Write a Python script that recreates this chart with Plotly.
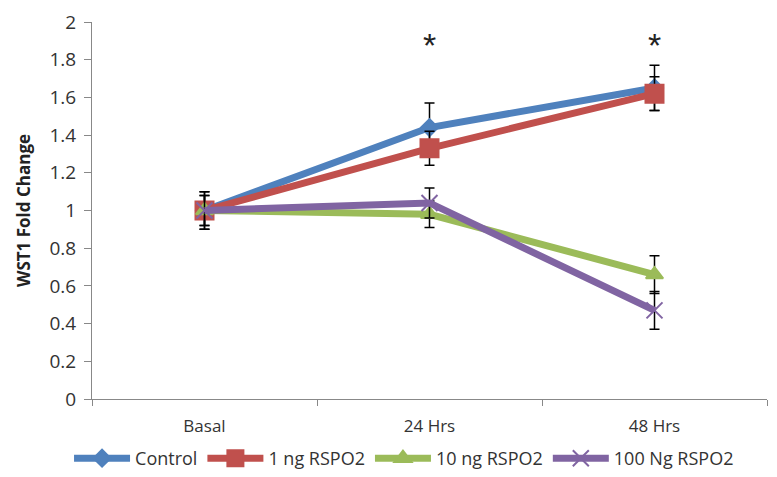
import plotly.graph_objects as go

categories = ["Basal", "24 Hrs", "48 Hrs"]
series_names = ["Control", "1 ng RSPO2", "10 ng RSPO2", "100 Ng RSPO2"]
control = [1.0, 1.44, 1.65]
control_err = [0.1, 0.13, 0.12]
ng1 = [1.0, 1.33, 1.62]
ng1_err = [0.1, 0.09, 0.09]
ng10 = [1.0, 0.98, 0.66]
ng10_err = [0.08, 0.07, 0.1]
ng100 = [1.0, 1.04, 0.47]
ng100_err = [0.08, 0.08, 0.1]
star_cats = ["24 Hrs", "48 Hrs"]
star_y = [1.86, 1.86]

colors = ["#4F81BD", "#C0504D", "#9BBB59", "#8064A2"]
symbols = ["diamond", "square", "triangle-up", "x-thin"]
sizes = [13, 18, 15, 16]
values = [control, ng1, ng10, ng100]
errs = [control_err, ng1_err, ng10_err, ng100_err]

fig = go.Figure()
for name, v, e, c, s, sz in zip(series_names, values, errs, colors, symbols, sizes):
    fig.add_trace(go.Scatter(
        x=categories, y=v, name=name, mode="lines+markers",
        line=dict(color=c, width=7),
        marker=dict(symbol=s, size=sz, color=c, line=dict(color=c, width=2)),
        error_y=dict(type="data", array=e, color="black", thickness=1.5, width=5),
    ))

fig.add_trace(go.Scatter(
    x=star_cats, y=star_y, mode="text", text=["*", "*"], showlegend=False,
    textfont=dict(size=34, color="#222", family="Liberation Sans"),
))

fig.update_layout(
    width=777, height=477,
    margin=dict(l=92, r=10, t=22, b=78),
    plot_bgcolor="white", paper_bgcolor="white",
    font=dict(family="Open Sans", size=16, color="#333"),
    showlegend=True,
    legend=dict(orientation="h", xref="container", yref="container",
                x=0.52, xanchor="center", y=0.0, yanchor="bottom",
                font=dict(size=18), itemwidth=56, tracegroupgap=0),
)
fig.update_xaxes(
    type="category", range=[-0.5, 2.5], showline=True, linecolor="#888", linewidth=1,
    ticks="outside", tickson="boundaries", ticklen=6, tickcolor="#888",
    showgrid=False, tickfont=dict(size=17), automargin=False, ticklabelstandoff=12,
)
fig.update_yaxes(
    range=[0, 2], dtick=0.2, showline=True, linecolor="#888", linewidth=1,
    ticks="outside", ticklen=7, tickcolor="#888", showgrid=False, zeroline=False,
    tickfont=dict(size=19), automargin=False, ticklabelstandoff=4,
    title=dict(text="<b>WST1 Fold Change</b>", font=dict(size=17, color="#222"), standoff=14),
)

fig.write_html("out.html", config={"displayModeBar": False},
               post_script="document.body.style.margin='0';")
